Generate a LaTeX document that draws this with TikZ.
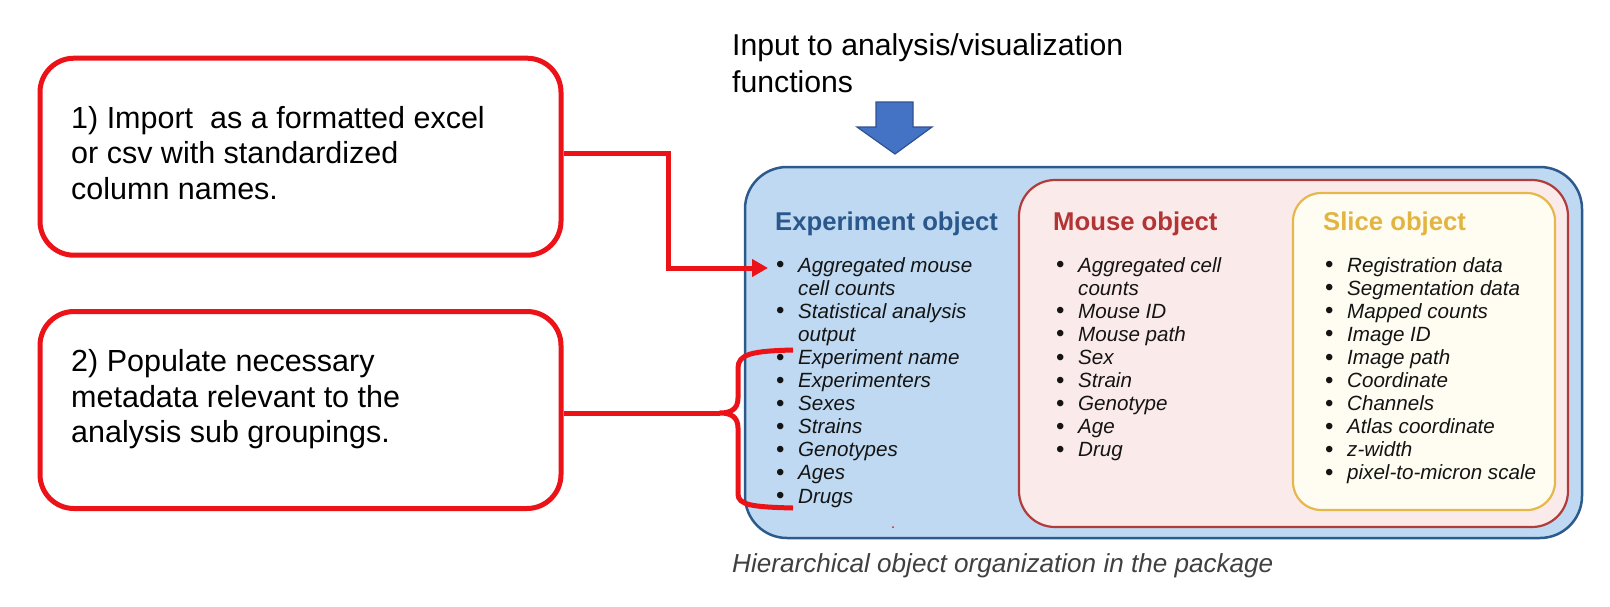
\documentclass[tikz,border=0pt]{standalone}
\usepackage{fontspec}
\setmainfont{Liberation Sans}
\usetikzlibrary{arrows.meta}
\definecolor{redl}{RGB}{235,18,24}
\definecolor{expfill}{RGB}{190,217,241}
\definecolor{expedge}{RGB}{44,90,140}
\definecolor{expt}{RGB}{42,88,140}
\definecolor{msfill}{RGB}{251,234,234}
\definecolor{msedge}{RGB}{176,60,60}
\definecolor{mst}{RGB}{178,52,52}
\definecolor{slfill}{RGB}{255,252,242}
\definecolor{sledge}{RGB}{229,184,75}
\definecolor{slt}{RGB}{226,180,66}
\definecolor{arrfill}{RGB}{68,114,196}
\definecolor{arredge}{RGB}{47,82,143}
\definecolor{capgray}{RGB}{64,64,64}
\newcommand\bul{\makebox[22pt][l]{\upshape\fontsize{24}{23.1}\selectfont\raisebox{-0.6pt}{\textbullet}}}
\newcommand\ind{\hspace*{22pt}}
\begin{document}
\begin{tikzpicture}[x=1pt,y=-1pt,
  redbox/.style={draw=redl, line width=5pt, rounded corners=34pt, fill=white, inner sep=0pt, minimum width=521pt, minimum height=197pt},
  redline/.style={draw=redl, line width=5pt, line join=miter},
  bigtext/.style={anchor=base west, inner sep=0pt, font=\fontsize{30.5}{35.5}\selectfont},
  title/.style={anchor=base west, inner sep=0pt, font=\fontsize{25.7}{30}\selectfont\bfseries},
  listtext/.style={anchor=base west, inner sep=0pt, font=\fontsize{20.6}{23.1}\selectfont\itshape, text=black!92},
  objbox/.style={inner sep=0pt}
]
\useasboundingbox (0,0) rectangle (1610,606);

% left red boxes
\node[redbox] (b1) at (300.5,156.7) {};
\node[redbox] (b2) at (300.5,410) {};
\node[bigtext] (t1) at (71,128) {\parbox[t]{480pt}{1) Import~~as a formatted excel\\or csv with standardized\\column names.}};
\node[bigtext] (t2) at (71,371.7) {\parbox[t]{480pt}{2) Populate necessary\\metadata relevant to the\\analysis sub groupings.}};

% input text and block arrow
\node[anchor=base west, inner sep=0pt, font=\fontsize{30.2}{37}\selectfont] (inp) at (732,55) {\parbox[t]{480pt}{Input to analysis/visualization\\functions}};
\draw[fill=arrfill, draw=arredge, line width=1.2pt, line join=miter] (876,102) -- (913,102) -- (913,127) -- (932,127) -- (895,154) -- (857,127) -- (876,127) -- cycle;

% object boxes
\node[objbox, draw=expedge, fill=expfill, line width=2.5pt, rounded corners=42pt, minimum width=837pt, minimum height=371pt] (exp) at (1163.5,352.5) {};
\node[objbox, draw=msedge, fill=msfill, line width=2.2pt, rounded corners=36pt, minimum width=549pt, minimum height=347pt] (mouse) at (1293.5,353.5) {};
\node[objbox, draw=sledge, fill=slfill, line width=2.2pt, rounded corners=28pt, minimum width=262pt, minimum height=317pt] (slice) at (1424,351.5) {};

% titles
\node[title, text=expt] (expT) at (775,230) {Experiment object};
\node[title, text=mst] (msT) at (1053,230) {Mouse object};
\node[title, text=slt] (slT) at (1323,230) {Slice object};

% lists
\node[listtext] (expL) at (776,272) {\parbox[t]{220pt}{%
\bul Aggregated mouse\\
\ind cell counts\\
\bul Statistical analysis\\
\ind output\\
\bul Experiment name\\
\bul Experimenters\\
\bul Sexes\\
\bul Strains\\
\bul Genotypes\\
\bul Ages\\
\bul Drugs}};
\node[listtext] (msL) at (1056,272) {\parbox[t]{220pt}{%
\bul Aggregated cell\\
\ind counts\\
\bul Mouse ID\\
\bul Mouse path\\
\bul Sex\\
\bul Strain\\
\bul Genotype\\
\bul Age\\
\bul Drug}};
\node[listtext] (slL) at (1325,272) {\parbox[t]{240pt}{%
\bul Registration data\\
\bul Segmentation data\\
\bul Mapped counts\\
\bul Image ID\\
\bul Image path\\
\bul Coordinate\\
\bul Channels\\
\bul Atlas coordinate\\
\bul z-width\\
\bul pixel-to-micron scale}};

% red connectors
\coordinate (tip1) at (768,268);
\draw[redline, -{Triangle[length=16pt,width=17pt]}] ([yshift=3.7pt]b1.east) -- ++(105,0) |- (tip1);
\coordinate (btip) at (720,413);
\draw[redline] ([yshift=-3pt]b2.east) -- (btip);
\draw[redline, line join=round] (793,350) .. controls (752,351) and (738,354) .. (738,368) -- (738,398)
  .. controls (738,409) and (731,413) .. (btip)
  .. controls (731,413) and (738,417) .. (738,428) -- (738,494)
  .. controls (738,505) and (752,507) .. (793,508);
\fill[redl] (893,527) circle (1pt);

% caption
\node[anchor=base west, inner sep=0pt, font=\fontsize{26.1}{30}\selectfont\itshape, text=capgray] (cap) at (732,572) {Hierarchical object organization in the package};
\end{tikzpicture}
\end{document}
